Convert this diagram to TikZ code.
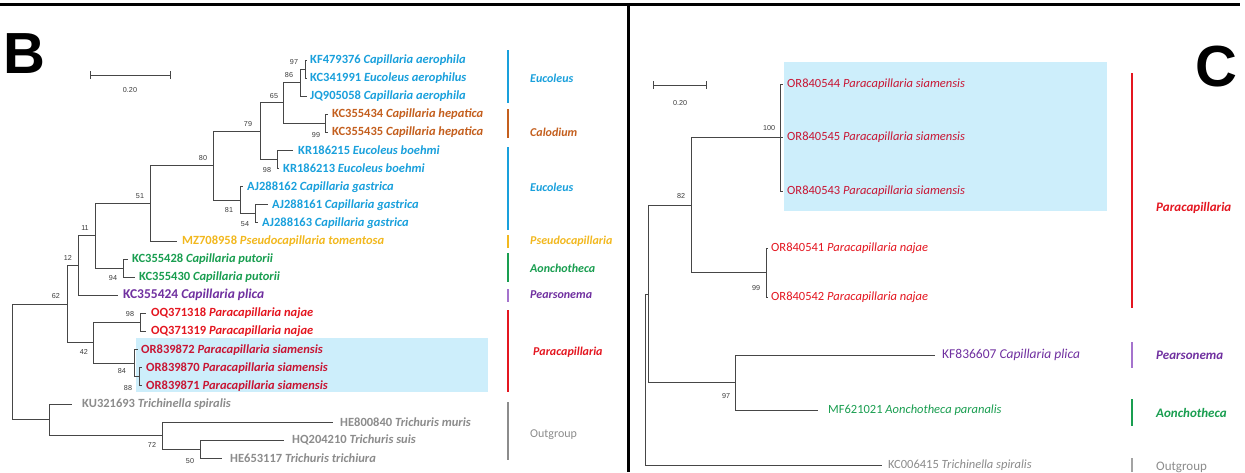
\documentclass[tikz,border=0pt]{standalone}
\usepackage{fontspec}
\setmainfont{Carlito}
\newfontfamily\bsfont{Liberation Sans}
\definecolor{eucol}{RGB}{25,160,220}
\definecolor{calod}{RGB}{196,95,30}
\definecolor{pseudo}{RGB}{242,184,30}
\definecolor{aonch}{RGB}{25,158,80}
\definecolor{pears}{RGB}{112,48,160}
\definecolor{pearsbar}{RGB}{165,115,205}
\definecolor{paraR}{RGB}{228,22,32}
\definecolor{siam}{RGB}{200,22,52}
\definecolor{outg}{RGB}{140,140,140}
\definecolor{boxblue}{RGB}{205,238,251}
\definecolor{treegray}{RGB}{70,70,70}
\definecolor{bsgray}{RGB}{60,60,60}
\begin{document}
\begin{tikzpicture}[x=1pt,y=-1pt,
  br/.style={draw=treegray, line width=0.95pt},
  leafL/.style={anchor=west, inner sep=0pt, font=\fontsize{12.5}{14}\selectfont\bfseries},
  leafR/.style={anchor=west, inner sep=0pt, font=\fontsize{12.5}{14}\selectfont},
  bs/.style={inner sep=0pt, text=bsgray, font=\bsfont\fontsize{7.2}{8}\selectfont},
  cladebar/.style={line width=2pt},
  cladelab/.style={anchor=west, inner sep=0pt, font=\fontsize{12}{14}\selectfont\bfseries\itshape},
  cladelabR/.style={anchor=west, inner sep=0pt, font=\fontsize{13}{15}\selectfont\bfseries\itshape},
  panel/.style={inner sep=0pt, font=\bsfont\bfseries\fontsize{58}{60}\selectfont}]
\useasboundingbox (0,0) rectangle (1245,472);
\fill[white] (0,0) rectangle (1245,472);
% frame
\draw[line width=3pt] (0,4) -- (1240,4);
\draw[line width=3pt] (628,4) -- (628,472);
\node[panel, anchor=base west] (pB) at (3,73) {B};
\node[panel, anchor=base east] (pC) at (1238,86) {C};
% highlight boxes
\fill[boxblue] (136,338) rectangle (488,392);
\fill[boxblue] (784,62) rectangle (1107,211);
% scale bars
\coordinate (sbL1) at (90,75); \coordinate (sbL2) at (171,75);
\draw[br, |-|] (sbL1) -- (sbL2);
\node[bs] (sbLt) at (130,90) {0.20};
\coordinate (sbR1) at (653,85); \coordinate (sbR2) at (707,85);
\draw[br, |-|] (sbR1) -- (sbR2);
\node[bs] (sbRt) at (680,103) {0.20};

% ---------- left tree leaves ----------
\node[leafL, text=eucol] (L0) at (310,60) {KF479376 \textit{Capillaria aerophila}};
\node[leafL, text=eucol] (L1) at (310,78) {KC341991 \textit{Eucoleus aerophilus}};
\node[leafL, text=eucol] (L2) at (310,96) {JQ905058 \textit{Capillaria aerophila}};
\node[leafL, text=calod] (L3) at (332,114) {KC355434 \textit{Capillaria hepatica}};
\node[leafL, text=calod] (L4) at (332,132) {KC355435 \textit{Capillaria hepatica}};
\node[leafL, text=eucol] (L5) at (298,150.5) {KR186215 \textit{Eucoleus boehmi}};
\node[leafL, text=eucol] (L6) at (283,168.6) {KR186213 \textit{Eucoleus boehmi}};
\node[leafL, text=eucol] (L7) at (247,186.7) {AJ288162 \textit{Capillaria gastrica}};
\node[leafL, text=eucol] (L8) at (272,204.8) {AJ288161 \textit{Capillaria gastrica}};
\node[leafL, text=eucol] (L9) at (262,222.9) {AJ288163 \textit{Capillaria gastrica}};
\node[leafL, text=pseudo] (L10) at (182,241) {MZ708958 \textit{Pseudocapillaria tomentosa}};
\node[leafL, text=aonch] (L11) at (132,259.1) {KC355428 \textit{Capillaria putorii}};
\node[leafL, text=aonch] (L12) at (139,277.2) {KC355430 \textit{Capillaria putorii}};
\node[leafL, text=pears, font=\fontsize{13.5}{15}\selectfont\bfseries] (L13) at (123,295.3) {KC355424 \textit{Capillaria plica}};
\node[leafL, text=paraR] (L14) at (151,313.4) {OQ371318 \textit{Paracapillaria najae}};
\node[leafL, text=paraR] (L15) at (151,331.5) {OQ371319 \textit{Paracapillaria najae}};
\node[leafL, text=siam] (L16) at (141,349.6) {OR839872 \textit{Paracapillaria siamensis}};
\node[leafL, text=siam] (L17) at (146,367.7) {OR839870 \textit{Paracapillaria siamensis}};
\node[leafL, text=siam] (L18) at (146,385.8) {OR839871 \textit{Paracapillaria siamensis}};
\node[leafL, text=outg] (L19) at (82,404) {KU321693 \textit{Trichinella spiralis}};
\node[leafL, text=outg] (L20) at (340,422) {HE800840 \textit{Trichuris muris}};
\node[leafL, text=outg] (L21) at (292,440) {HQ204210 \textit{Trichuris suis}};
\node[leafL, text=outg] (L22) at (230,458) {HE653117 \textit{Trichuris trichiura}};

% ---------- left tree internal nodes ----------
\coordinate (n97) at (305,69);
\coordinate (n86) at (300,82.5);
\coordinate (nHep) at (325,123);
\coordinate (n65) at (283,102.75);
\coordinate (nBoe) at (277,159.5);
\coordinate (n79) at (260,131);
\coordinate (n54) at (255,213.9);
\coordinate (n81) at (240,200.3);
\coordinate (n80) at (213,165.7);
\coordinate (n51) at (150,203.4);
\coordinate (nPut) at (123,268.2);
\coordinate (n11) at (95,235.8);
\coordinate (n12) at (78,265.5);
\coordinate (nNaj) at (140,322.5);
\coordinate (n84) at (139,376.8);
\coordinate (nSia) at (134,363.2);
\coordinate (n42) at (93,342.8);
\coordinate (n62) at (67,304.2);
\coordinate (n50) at (200,449);
\coordinate (n72) at (162,435.5);
\coordinate (nOut) at (49,419.7);
\coordinate (rootL) at (12,362);

% ---------- left tree branches ----------
\draw[br] (n97) |- ([xshift=-3pt]L0.west);
\draw[br] (n97) |- ([xshift=-3pt]L1.west);
\draw[br] (n86) |- (n97);
\draw[br] (n86) |- ([xshift=-3pt]L2.west);
\draw[br] (nHep) |- ([xshift=-4pt]L3.west);
\draw[br] (nHep) |- ([xshift=-4pt]L4.west);
\draw[br] (n65) |- (n86);
\draw[br] (n65) |- (nHep);
\draw[br] (nBoe) |- ([xshift=-5pt]L5.west);
\draw[br] (nBoe) |- ([xshift=-4pt]L6.west);
\draw[br] (n79) |- (n65);
\draw[br] (n79) |- (nBoe);
\draw[br] (n54) |- ([xshift=-4pt]L8.west);
\draw[br] (n54) |- ([xshift=-4pt]L9.west);
\draw[br] (n81) |- ([xshift=-4pt]L7.west);
\draw[br] (n81) |- (n54);
\draw[br] (n80) |- (n79);
\draw[br] (n80) |- (n81);
\draw[br] (n51) |- (n80);
\draw[br] (n51) |- ([xshift=-5pt]L10.west);
\draw[br] (nPut) |- ([xshift=-4pt]L11.west);
\draw[br] (nPut) |- ([xshift=-4pt]L12.west);
\draw[br] (n11) |- (n51);
\draw[br] (n11) |- (nPut);
\draw[br] (n12) |- (n11);
\draw[br] (n12) |- ([xshift=-5pt]L13.west);
\draw[br] (nNaj) |- ([xshift=-5pt]L14.west);
\draw[br] (nNaj) |- ([xshift=-5pt]L15.west);
\draw[br] (n84) |- ([xshift=-4pt]L17.west);
\draw[br] (n84) |- ([xshift=-4pt]L18.west);
\draw[br] (nSia) |- ([xshift=-3pt]L16.west);
\draw[br] (nSia) |- (n84);
\draw[br] (n42) |- (nNaj);
\draw[br] (n42) |- (nSia);
\draw[br] (n62) |- (n12);
\draw[br] (n62) |- (n42);
\draw[br] (n50) |- ([xshift=-8pt]L21.west);
\draw[br] (n50) |- ([xshift=-8pt]L22.west);
\draw[br] (n72) |- ([xshift=-7pt]L20.west);
\draw[br] (n72) |- (n50);
\draw[br] (nOut) |- ([xshift=-10pt]L19.west);
\draw[br] (nOut) |- (n72);
\draw[br] (rootL) |- (n62);
\draw[br] (rootL) |- (nOut);

% ---------- left bootstrap values ----------
\node[bs] (b97) at (294,62) {97};
\node[bs] (b86) at (289,75) {86};
\node[bs] (b65) at (274,96) {65};
\node[bs] (b99h) at (316,135) {99};
\node[bs] (b79) at (248,124) {79};
\node[bs] (b98b) at (267,170) {98};
\node[bs] (b80) at (203,158) {80};
\node[bs] (b81) at (229,210) {81};
\node[bs] (b54) at (245,224) {54};
\node[bs] (b51) at (140,196) {51};
\node[bs] (b11) at (85,228) {11};
\node[bs] (b12) at (68,258) {12};
\node[bs] (b94) at (113,278) {94};
\node[bs] (b62) at (56,296) {62};
\node[bs] (b98n) at (130,314) {98};
\node[bs] (b42) at (84,352) {42};
\node[bs] (b84) at (122,371) {84};
\node[bs] (b88) at (128,388) {88};
\node[bs] (b72) at (152,445) {72};
\node[bs] (b50) at (190,461) {50};

% ---------- left clade bars and labels ----------
\draw[cladebar, eucol] (508,50) -- (508,103);
\node[cladelab, text=eucol] (gE1) at (530,78) {Eucoleus};
\draw[cladebar, calod] (508,109) -- (508,138);
\node[cladelab, text=calod] (gCa) at (530,132) {Calodium};
\draw[cladebar, eucol] (508,147) -- (508,230);
\node[cladelab, text=eucol] (gE2) at (530,187) {Eucoleus};
\draw[cladebar, pseudo] (508,235) -- (508,248);
\node[cladelab, text=pseudo] (gPs) at (530,241) {Pseudocapillaria};
\draw[cladebar, aonch] (508,253) -- (508,282);
\node[cladelab, text=aonch] (gAo) at (530,268) {Aonchotheca};
\draw[cladebar, pearsbar] (508,289) -- (508,302);
\node[cladelab, text=pears] (gPe) at (530,295) {Pearsonema};
\draw[cladebar, paraR] (508,310) -- (508,392);
\node[cladelab, text=paraR] (gPa) at (533,352) {Paracapillaria};
\draw[cladebar, outg] (508,402) -- (508,460);
\node[cladelab, text=outg, font=\fontsize{12}{14}\selectfont] (gOu) at (530,435) {Outgroup};

% ---------- right tree leaves ----------
\node[leafR, text=siam] (R0) at (787,84) {OR840544 \textit{Paracapillaria siamensis}};
\node[leafR, text=siam] (R1) at (787,137) {OR840545 \textit{Paracapillaria siamensis}};
\node[leafR, text=siam] (R2) at (787,191) {OR840543 \textit{Paracapillaria siamensis}};
\node[leafR, text=paraR] (R3) at (771,248) {OR840541 \textit{Paracapillaria najae}};
\node[leafR, text=paraR] (R4) at (771,297) {OR840542 \textit{Paracapillaria najae}};
\node[leafR, text=pears, font=\fontsize{13.5}{16}\selectfont] (R5) at (942,355) {KF836607 \textit{Capillaria plica}};
\node[leafR, text=aonch] (R6) at (828,410) {MF621021 \textit{Aonchotheca paranalis}};
\node[leafR, text=outg] (R7) at (888,465) {KC006415 \textit{Trichinella spiralis}};

% ---------- right tree internal nodes ----------
\coordinate (n100) at (780,137.5);
\coordinate (nNaj2) at (766,272.5);
\coordinate (n82) at (691,205);
\coordinate (n97r) at (735,382.5);
\coordinate (nA) at (648,294);
\coordinate (rootR) at (645,379.5);

\draw[br] (n100) |- ([xshift=-4pt]R0.west);
\draw[br] (n100) |- ([xshift=-4pt]R1.west);
\draw[br] (n100) |- ([xshift=-4pt]R2.west);
\draw[br] (nNaj2) |- ([xshift=-3pt]R3.west);
\draw[br] (nNaj2) |- ([xshift=-3pt]R4.west);
\draw[br] (n82) |- (n100);
\draw[br] (n82) |- (nNaj2);
\draw[br] (n97r) |- ([xshift=-7pt]R5.west);
\draw[br] (n97r) |- ([xshift=-10pt]R6.west);
\draw[br] (nA) |- (n82);
\draw[br] (nA) |- (n97r);
\draw[br] (rootR) |- (nA);
\draw[br] (rootR) |- ([xshift=-6pt]R7.west);

\node[bs] (b100) at (769,128) {100};
\node[bs] (b82) at (681,196) {82};
\node[bs] (b99r) at (756,288) {99};
\node[bs] (b97r) at (726,396) {97};

% ---------- right clade bars and labels ----------
\draw[cladebar, paraR] (1132,73) -- (1132,308);
\node[cladelabR, text=paraR] (hPa) at (1156,208) {Paracapillaria};
\draw[cladebar, pearsbar] (1132,342) -- (1132,368);
\node[cladelabR, text=pears] (hPe) at (1156,355) {Pearsonema};
\draw[cladebar, aonch] (1132,399) -- (1132,426);
\node[cladelabR, text=aonch] (hAo) at (1156,413) {Aonchotheca};
\draw[cladebar, outg!80] (1132,458) -- (1132,472);
\node[cladelabR, text=outg, font=\fontsize{13}{15}\selectfont] (hOu) at (1156,467) {Outgroup};
\end{tikzpicture}
\end{document}
